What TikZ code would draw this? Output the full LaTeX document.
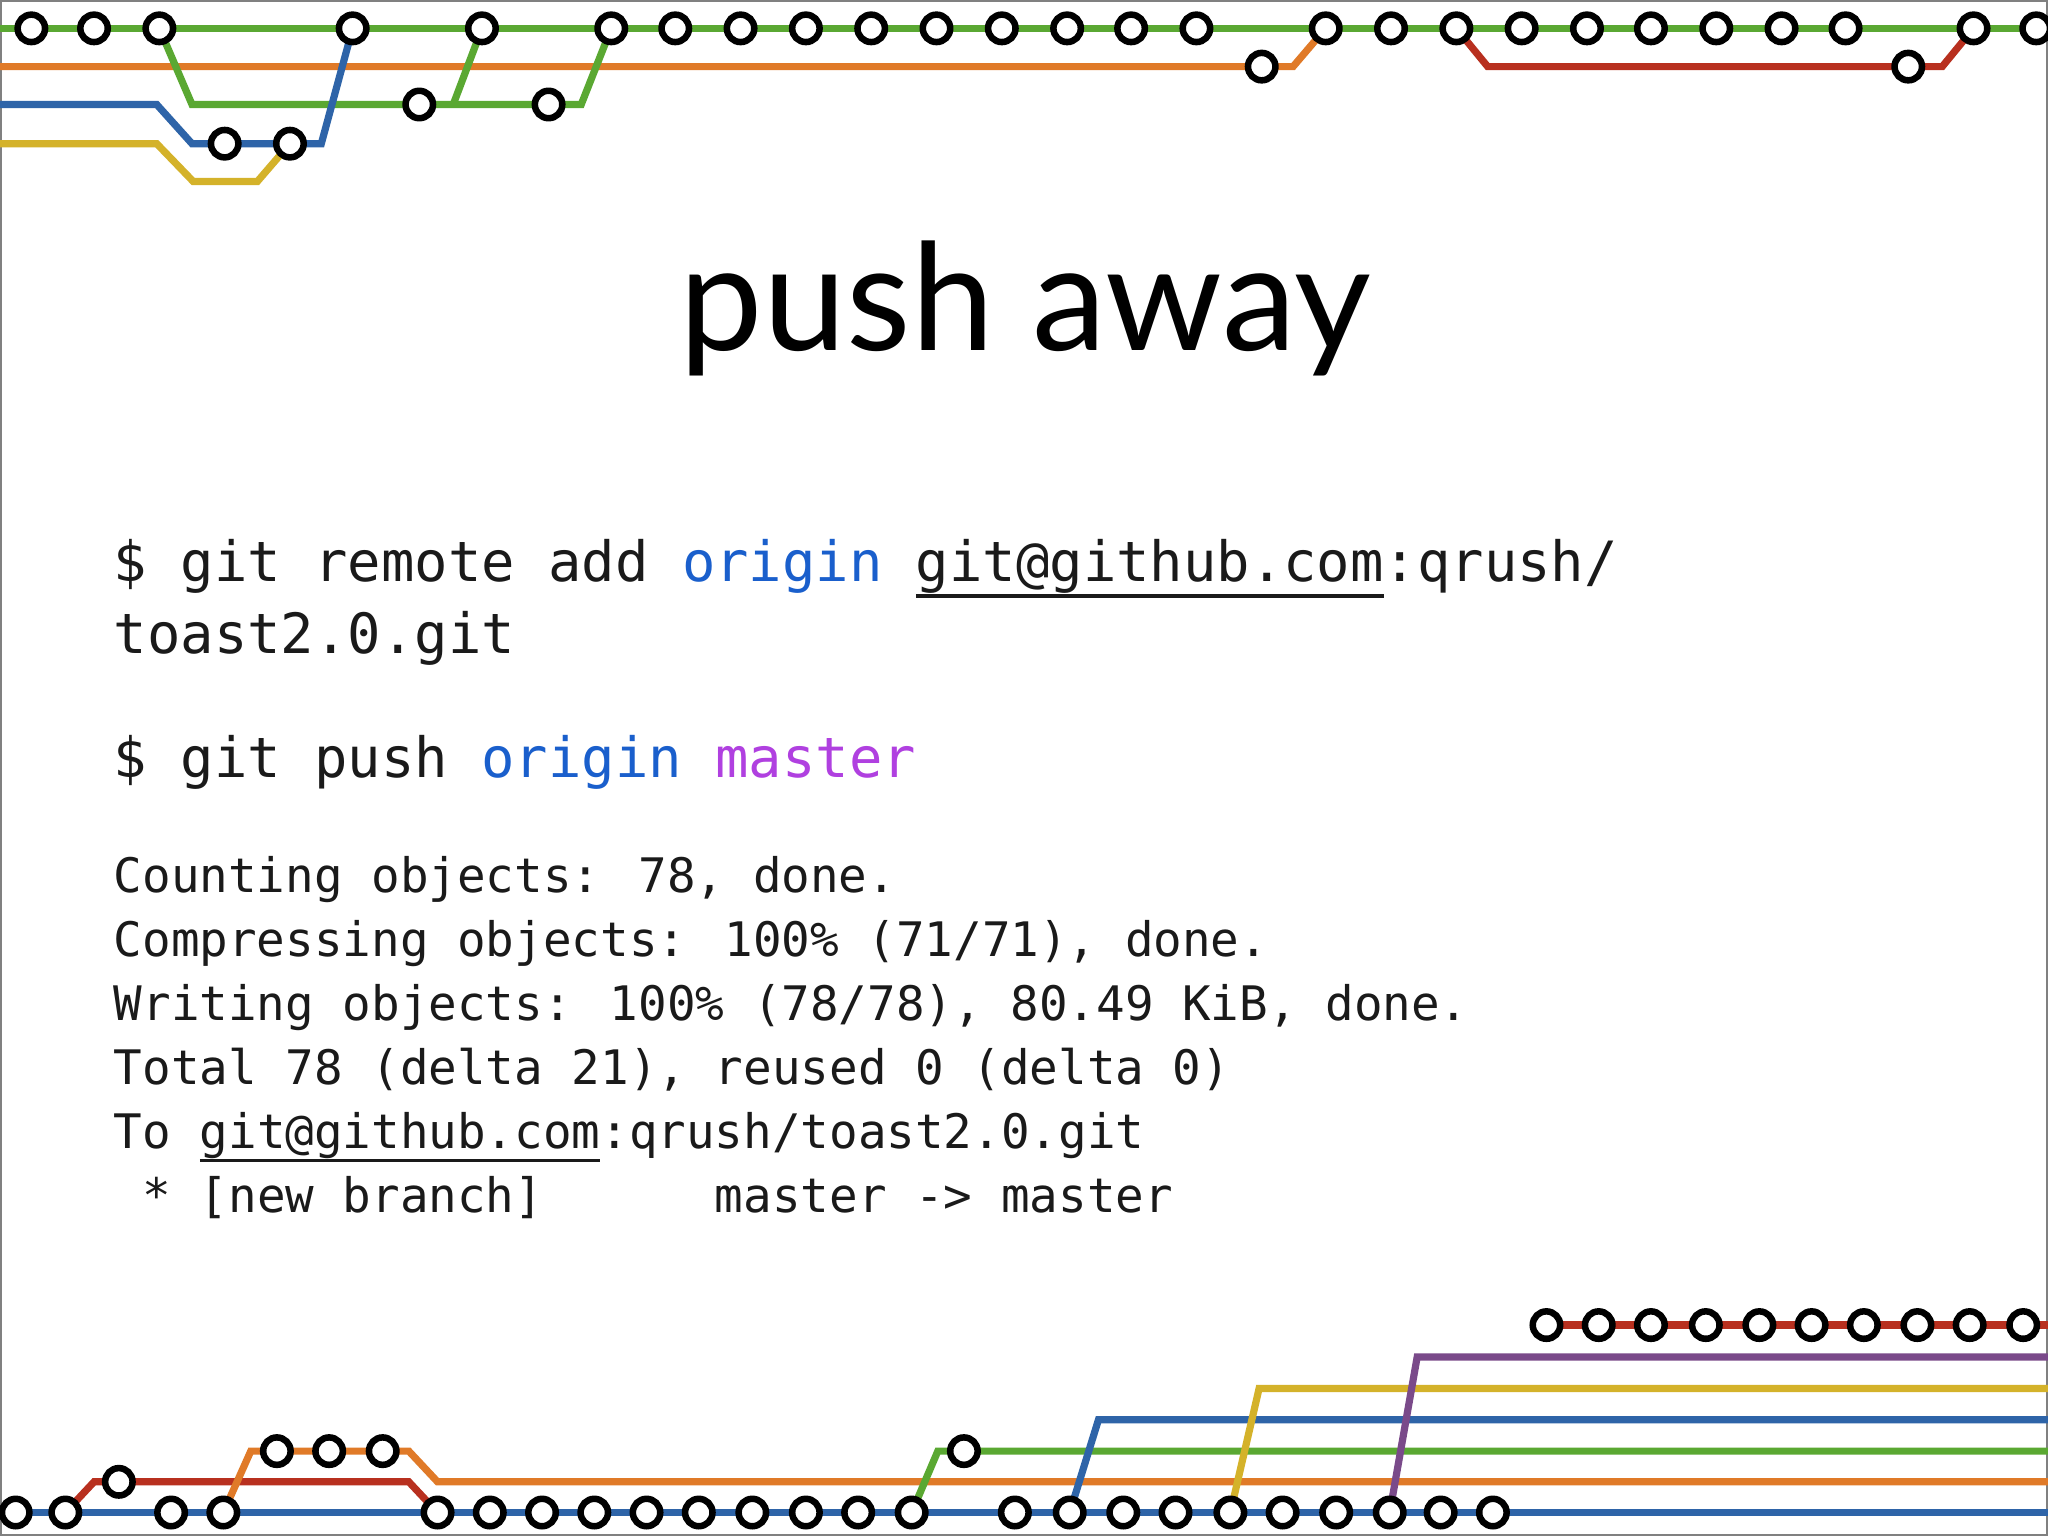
\documentclass[tikz,border=0pt]{standalone}
\usepackage{fontspec}
\setmainfont{Lato}
\newfontfamily\monof{DejaVu Sans Mono}
\definecolor{lgreen}{HTML}{5AA832}
\definecolor{lorange}{HTML}{E07A28}
\definecolor{lblue}{HTML}{2E64A8}
\definecolor{lyellow}{HTML}{D4B22A}
\definecolor{lred}{HTML}{B8301F}
\definecolor{lpurple}{HTML}{7A4A8A}
\definecolor{txt}{HTML}{1A1A1A}
\definecolor{cblue}{HTML}{1A5FCC}
\definecolor{cpurple}{HTML}{B040E0}
\newcommand\myul[1]{\setbox0\hbox{#1}\leavevmode\rlap{\raisebox{-0.3em}{\rule{\wd0}{0.07em}}}\box0}
\tikzset{
 stn/.style={circle,draw=black,fill=white,line width=5pt,minimum size=21pt,inner sep=0pt},
 ln/.style={line width=5.5pt,line join=miter},
 cmd/.style={anchor=base west,inner sep=0pt,text=txt,font=\monof\fontsize{42.5}{50}\selectfont},
 outl/.style={anchor=base west,inner sep=0pt,text=txt,font=\monof\fontsize{36.4}{44}\selectfont}
}
\begin{document}
\begin{tikzpicture}[x=1pt,y=-1pt]
\useasboundingbox (0,0) rectangle (1568,1176);
\fill[white] (0,0) rectangle (1568,1176);
\draw[gray,line width=1.5pt] (0.75,0.75) rectangle (1567.25,1175.25);
% ---- top lines
\draw[ln,lorange] (0,51) -- (990,51) -- (1015,21.7);
\draw[ln,lred] (1115,21.7) -- (1139,51) -- (1487,51) -- (1511,21.7);
\draw[ln,lgreen] (122,21.7) -- (147,80) -- (445,80) -- (468,21.7);
\draw[ln,lgreen] (347,80) -- (369,21.7);
\draw[ln,lblue] (0,80) -- (120,80) -- (147,110) -- (246,110) -- (270,21.7);
\draw[ln,lyellow] (0,110) -- (120,110) -- (148,139) -- (197,139) -- (222,110);
\draw[ln,lgreen] (0,21.7) -- (1568,21.7);
\foreach \x [count=\i] in {24,72,122,270,369,468,517,567,617,667,717,767,817,866,916,1015,1065,1115,1165,1215,1264,1314,1364,1413,1511,1559}
  \node[stn] (tg\i) at (\x,21.7) {};
\node[stn] (tg2a) at (321,80) {};
\node[stn] (tg2b) at (420,80) {};
\node[stn] (tb1) at (172,110) {};
\node[stn] (tb2) at (222,110) {};
\node[stn] (to1) at (966,51) {};
\node[stn] (tr1) at (1461,51) {};
% ---- bottom lines
\draw[ln,lred] (50,1158) -- (72,1134.5) -- (313,1134.5) -- (335,1158);
\draw[ln,lorange] (171,1158) -- (192,1111) -- (313,1111) -- (335,1134.5) -- (1568,1134.5);
\draw[ln,lgreen] (698,1158) -- (718,1111) -- (1568,1111);
\draw[ln,lblue] (819,1158) -- (841,1087) -- (1568,1087);
\draw[ln,lyellow] (942,1158) -- (964,1063) -- (1568,1063);
\draw[ln,lpurple] (1064,1158) -- (1085,1039) -- (1568,1039);
\draw[ln,lred] (1184,1014.5) -- (1568,1014.5);
\draw[ln,lblue] (0,1158) -- (1568,1158);
\foreach \x [count=\i] in {12,50,131,171,335,375,415,455,495,535,576,617,657,698,777,819,860,900,942,982,1023,1064,1103,1143}
  \node[stn] (bb\i) at (\x,1158) {};
\node[stn] (br1) at (91,1134.5) {};
\foreach \x [count=\i] in {212,252,293} \node[stn] (bo\i) at (\x,1111) {};
\node[stn] (bg1) at (738,1111) {};
\foreach \x [count=\i] in {1184,1224,1264,1306,1347,1387,1427,1468,1508,1549} \node[stn] (bt\i) at (\x,1014.5) {};
% ---- text
\node[anchor=base,inner sep=0pt,text=black,font=\fontsize{114}{120}\selectfont] (title) at (785,268) {push away};
\node[cmd] (c1) at (87,445) {\$ git remote add \textcolor{cblue}{origin} \myul{git@github.com}:qrush/};
\node[cmd] (c2) at (87,500) {toast2.0.git};
\node[cmd] (c3) at (87,595) {\$ git push \textcolor{cblue}{origin} \textcolor{cpurple}{master}};
\node[outl] (o1) at (87,683) {Counting objects: 78, done.};
\node[outl] (o2) at (87,732) {Compressing objects: 100\% (71/71), done.};
\node[outl] (o3) at (87,781) {Writing objects: 100\% (78/78), 80.49 KiB, done.};
\node[outl] (o4) at (87,830) {Total 78 (delta 21), reused 0 (delta 0)};
\node[outl] (o5) at (87,879) {To \myul{git@github.com}:qrush/toast2.0.git};
\node[outl] (o6) at (87,928) {\ * [new branch]\ \ \ \ \ \ master -> master};
\end{tikzpicture}
\end{document}
